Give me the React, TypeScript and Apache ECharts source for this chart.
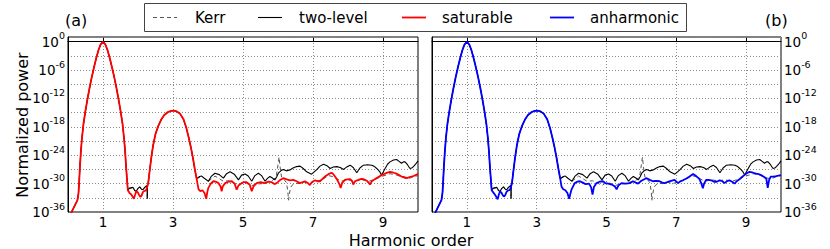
import React, { useEffect, useRef } from 'react';
import * as echarts from 'echarts';

type P = [number, number];

// x: harmonic order, y: log10(normalized power)
const harmonicTicks = [1, 3, 5, 7, 9];
const exponentLabels = [0, -6, -12, -18, -24, -30, -36];
const legendNames = ['Kerr', 'two-level', 'saturable', 'anharmonic'];

const peakOneLog: P[] = [
  [0.09, -36.2], [0.15, -35.3], [0.21, -34.4], [0.27, -33.5], [0.3, -32.0], [0.32, -29.5],
  [0.34, -26.5], [0.37, -23.0], [0.4, -20.3], [0.44, -17.5], [0.49, -15.0], [0.55, -12.4],
  [0.61, -10.0], [0.67, -7.8], [0.74, -5.5], [0.81, -3.4], [0.87, -1.8], [0.93, -0.6],
  [1.0, 0], [1.07, -0.6], [1.13, -1.8], [1.19, -3.4], [1.26, -5.5], [1.33, -7.8],
  [1.39, -10.0], [1.45, -12.4], [1.51, -15.0], [1.56, -17.5], [1.6, -20.3], [1.63, -23.0],
  [1.66, -26.5], [1.69, -29.5], [1.71, -31.4],
];

const peakThreeLog: P[] = [
  [2.29, -30.0], [2.33, -27.5], [2.38, -24.5], [2.43, -22.0], [2.5, -19.5], [2.58, -17.8],
  [2.66, -16.5], [2.75, -15.5], [2.85, -14.9], [2.95, -14.6], [3.02, -14.55], [3.1, -14.7],
  [3.2, -15.2], [3.3, -16.4], [3.38, -18.2], [3.45, -20.3], [3.51, -22.3], [3.57, -24.6],
  [3.62, -26.8], [3.67, -28.8],
];

const twoLevelGap: P[] = [
  [1.75, -31.0], [1.8, -30.9], [1.86, -30.8], [1.91, -31.5], [1.95, -31.6], [2.0, -31.0],
  [2.05, -30.7], [2.1, -31.2], [2.14, -31.3], [2.19, -30.8], [2.24, -30.5], [2.26, -30.4],
  [2.265, -33.2], [2.27, -30.3],
];
const saturableGap: P[] = [
  [1.76, -32.0], [1.81, -32.3], [1.85, -32.8], [1.88, -33.2], [1.92, -32.3], [1.95, -31.6],
  [1.99, -31.8], [2.03, -32.4], [2.07, -32.8], [2.1, -32.6], [2.14, -31.8], [2.17, -31.6],
  [2.21, -31.5], [2.24, -31.3],
];
const anharmonicGap: P[] = [
  [1.76, -31.9], [1.81, -32.4], [1.85, -32.9], [1.88, -33.3], [1.92, -32.2], [1.95, -31.7],
  [1.99, -31.9], [2.03, -32.5], [2.07, -32.7], [2.1, -32.4], [2.14, -31.7], [2.17, -31.5],
  [2.21, -31.4], [2.24, -31.2],
];

const twoLevelTail: P[] = [
  [3.7, -28.85], [3.76, -28.5], [3.82, -28.4], [3.9, -28.9], [4.01, -29.5], [4.1, -28.4],
  [4.2, -27.8], [4.32, -28.1], [4.44, -28.85], [4.53, -27.9], [4.63, -27.5], [4.75, -28.0],
  [4.87, -29.2], [4.96, -28.2], [5.06, -27.95], [5.15, -28.4], [5.25, -29.5], [5.34, -28.3],
  [5.44, -27.8], [5.53, -28.3], [5.63, -29.5], [5.7, -28.9], [5.77, -28.5], [5.84, -28.8],
  [5.91, -29.2], [5.96, -28.6], [6.01, -27.8], [6.08, -27.3], [6.15, -27.0], [6.24, -27.3],
  [6.34, -27.1], [6.43, -26.7], [6.53, -26.4], [6.63, -26.3], [6.72, -26.8], [6.82, -27.5],
  [6.96, -28.0], [7.1, -27.1], [7.2, -26.3], [7.3, -25.9], [7.4, -26.2], [7.49, -26.8],
  [7.58, -26.5], [7.68, -26.4], [7.78, -26.6], [7.87, -27.0], [7.96, -26.5], [8.06, -26.1],
  [8.15, -26.6], [8.25, -27.7], [8.34, -26.7], [8.44, -26.1], [8.56, -26.0], [8.68, -26.1],
  [8.76, -26.4], [8.82, -26.8], [8.9, -27.4], [8.96, -28.2], [9.01, -27.5], [9.06, -26.8],
  [9.13, -25.9], [9.2, -25.4], [9.3, -25.0], [9.39, -24.9], [9.46, -25.3], [9.53, -25.7],
  [9.58, -25.4], [9.63, -25.4], [9.7, -26.0], [9.77, -26.8], [9.82, -26.7], [9.87, -26.4],
  [9.93, -25.9], [9.98, -25.4], [10.0, -25.2],
];

const saturableTail: P[] = [
  [3.73, -31.2], [3.78, -31.6], [3.84, -31.4], [3.9, -32.0], [3.95, -33.2], [3.98, -31.8],
  [4.01, -30.9], [4.08, -30.0], [4.15, -29.5], [4.23, -29.6], [4.3, -29.9], [4.36, -30.6],
  [4.39, -31.6], [4.42, -30.6], [4.49, -29.9], [4.58, -29.6], [4.68, -29.5], [4.76, -30.0],
  [4.82, -31.3], [4.87, -30.4], [4.96, -29.9], [5.03, -29.7], [5.1, -29.7], [5.19, -30.2],
  [5.25, -31.6], [5.3, -30.6], [5.39, -29.9], [5.5, -29.7], [5.63, -29.9], [5.72, -29.6],
  [5.82, -29.7], [5.9, -30.1], [5.96, -29.9], [6.05, -29.3], [6.15, -28.85], [6.25, -29.1],
  [6.34, -29.3], [6.44, -29.2], [6.53, -29.5], [6.63, -29.9], [6.77, -29.5], [6.84, -29.8],
  [6.91, -30.3], [6.98, -29.6], [7.06, -29.3], [7.13, -29.5], [7.2, -29.5], [7.27, -29.0],
  [7.34, -28.5], [7.44, -28.0], [7.53, -27.7], [7.58, -28.0], [7.63, -28.5], [7.7, -29.3],
  [7.76, -30.2], [7.79, -30.9], [7.83, -29.9], [7.91, -29.2], [7.98, -29.1], [8.06, -29.05],
  [8.12, -29.5], [8.15, -30.2], [8.2, -29.5], [8.3, -29.2], [8.38, -29.0], [8.44, -29.05],
  [8.54, -29.4], [8.6, -29.9], [8.63, -30.2], [8.68, -29.5], [8.77, -29.05], [8.87, -28.6],
  [8.96, -28.2], [9.08, -27.8], [9.2, -27.5], [9.3, -27.7], [9.39, -27.9], [9.46, -28.2],
  [9.53, -28.5], [9.6, -28.6], [9.68, -28.85], [9.76, -28.6], [9.87, -28.4], [9.93, -28.2],
  [10.0, -27.95],
];

const anharmonicTail: P[] = [
  [3.71, -30.6], [3.76, -31.2], [3.82, -31.4], [3.88, -32.0], [3.93, -33.2], [3.97, -32.0],
  [4.0, -31.2], [4.09, -29.9], [4.16, -29.6], [4.24, -29.5], [4.32, -29.8], [4.4, -30.1],
  [4.5, -30.0], [4.56, -30.8], [4.6, -32.3], [4.64, -30.7], [4.71, -29.9], [4.8, -29.6],
  [4.9, -29.5], [4.97, -29.9], [5.05, -30.0], [5.15, -30.2], [5.24, -30.6], [5.29, -31.2],
  [5.34, -30.4], [5.43, -29.9], [5.55, -30.0], [5.67, -29.9], [5.76, -29.5], [5.84, -29.8],
  [5.9, -30.0], [6.0, -29.4], [6.14, -28.85], [6.24, -29.2], [6.33, -29.5], [6.42, -29.4],
  [6.52, -29.5], [6.6, -29.8], [6.67, -29.9], [6.8, -29.5], [6.95, -29.2], [7.05, -29.9],
  [7.12, -29.5], [7.19, -29.3], [7.29, -28.9], [7.38, -28.5], [7.48, -27.95], [7.57, -28.4],
  [7.66, -29.0], [7.72, -30.0], [7.76, -31.0], [7.8, -29.9], [7.86, -29.2], [7.93, -29.2],
  [8.0, -29.3], [8.08, -29.6], [8.16, -29.6], [8.24, -29.3], [8.32, -29.5], [8.38, -29.9],
  [8.45, -29.5], [8.52, -29.3], [8.6, -29.6], [8.67, -30.0], [8.73, -29.5], [8.81, -29.1],
  [8.88, -28.6], [8.95, -28.2], [9.02, -27.8], [9.1, -27.5], [9.2, -27.7], [9.29, -27.9],
  [9.36, -28.0], [9.43, -28.2], [9.52, -28.6], [9.58, -29.0], [9.62, -30.9], [9.66, -29.2],
  [9.71, -28.5], [9.78, -28.5], [9.86, -28.4], [9.93, -28.3], [10.0, -28.2],
];

const kerrTail: P[] = [
  [3.7, -28.85], [3.82, -28.5], [4.01, -29.5], [4.2, -28.4], [4.44, -29.5], [4.6, -29.4],
  [4.75, -29.9], [4.87, -30.4], [4.95, -30.0], [5.1, -29.9], [5.25, -30.4], [5.4, -30.1],
  [5.55, -30.0], [5.7, -29.6], [5.85, -29.3], [5.95, -28.5], [6.0, -26.0], [6.03, -24.4],
  [6.06, -26.5], [6.1, -28.6], [6.18, -29.2], [6.24, -29.8], [6.28, -31.5], [6.3, -33.5],
  [6.33, -32.0], [6.36, -30.8], [6.42, -30.2], [6.5, -29.9], [6.6, -30.0], [6.75, -29.7],
  [6.9, -30.0], [7.05, -29.6], [7.25, -29.2], [7.45, -28.3], [7.6, -28.6], [7.8, -29.5],
  [8.0, -29.2], [8.2, -29.4], [8.4, -29.2], [8.6, -29.5], [8.8, -29.0], [9.0, -28.4],
  [9.2, -27.9], [9.4, -28.2], [9.55, -28.7], [9.7, -29.0], [9.85, -28.6], [10.0, -28.3],
];

const FONT = 'DejaVu Sans';

const kerrData = [...peakOneLog, ...twoLevelGap, ...peakThreeLog, ...kerrTail];
const twoLevelData = [...peakOneLog, ...twoLevelGap, ...peakThreeLog, ...twoLevelTail];
const saturableData = [...peakOneLog, ...saturableGap, ...peakThreeLog, ...saturableTail];
const anharmonicData = [...peakOneLog, ...anharmonicGap, ...peakThreeLog, ...anharmonicTail];

const styles: Record<string, { color: string; width: number; dash?: number[] }> = {
  Kerr: { color: '#555', width: 1, dash: [4, 3] },
  'two-level': { color: '#000', width: 1.1 },
  saturable: { color: '#ff0000', width: 1.8 },
  anharmonic: { color: '#0000ff', width: 1.8 },
};

const gridLine = { show: true, lineStyle: { color: '#8a8a8a', width: 1, type: [1, 2] as number[] } };

function makeX(gridIndex: number) {
  return {
    type: 'value',
    gridIndex,
    min: 0,
    max: 10,
    axisLine: { show: true, lineStyle: { color: '#000', width: 1 } },
    axisTick: { show: true, inside: true, length: 4, customValues: harmonicTicks, lineStyle: { color: '#000' } },
    axisLabel: {
      customValues: harmonicTicks,
      fontFamily: FONT,
      fontSize: 13.5,
      color: '#000',
      margin: 3,
    },
    splitLine: gridLine,
  };
}

function yFormatter(v: number) {
  const r = Math.round(v);
  if (Math.abs(v - r) > 1e-6 || !exponentLabels.includes(r)) return '';
  return `{b|10}{s|${r}}`;
}

function makeY(gridIndex: number, position: 'left' | 'right') {
  return {
    type: 'value',
    gridIndex,
    position,
    min: -36,
    max: 1,
    interval: 3,
    axisLine: { show: true, lineStyle: { color: '#000', width: 1 } },
    axisTick: { show: false },
    axisLabel: {
      formatter: yFormatter,
      margin: 3,
      color: '#000',
      rich: {
        b: { fontFamily: FONT, fontSize: 13.5, lineHeight: 22, color: '#000' },
        s: { fontFamily: FONT, fontSize: 9.5, lineHeight: 11, verticalAlign: 'top', color: '#000' },
      },
    },
    splitLine: gridLine,
  };
}

function line(name: string, xi: number, data: P[]) {
  const s = styles[name];
  return {
    type: 'line',
    name,
    xAxisIndex: xi,
    yAxisIndex: xi,
    data,
    symbol: 'none',
    showSymbol: false,
    lineStyle: { color: s.color, width: s.width, type: s.dash ? s.dash : 'solid' },
    itemStyle: { color: s.color },
    emphasis: { disabled: true },
    z: s.dash ? 1 : 2,
  };
}

// legend drawn as graphics: [line start x, text x]
const legendSlots: [number, number][] = [[153, 195], [258, 299], [402, 442], [550, 590]];

const legendGraphics: any[] = [
  { type: 'rect', shape: { x: 144.5, y: 3.5, width: 542, height: 28 }, style: { fill: '#fff', stroke: '#444', lineWidth: 1 }, z: 10 },
];
legendNames.forEach((name, i) => {
  const s = styles[name];
  const [lx, tx] = legendSlots[i];
  legendGraphics.push({
    type: 'line',
    shape: { x1: lx, y1: 17.5, x2: lx + 24, y2: 17.5 },
    style: { stroke: s.color, lineWidth: s.width, lineDash: s.dash || null },
    z: 11,
  });
  legendGraphics.push({
    type: 'text',
    x: tx,
    y: 17.5,
    style: { text: name, font: `15px "${FONT}"`, fill: '#000', verticalAlign: 'middle', align: 'left' },
    z: 11,
  });
});

const option = {
  animation: false,
  backgroundColor: '#fff',
  grid: [
    { left: 68, top: 37, width: 350, height: 175, show: true, borderColor: '#000', borderWidth: 1 },
    { left: 432, top: 37, width: 349, height: 175, show: true, borderColor: '#000', borderWidth: 1 },
  ],
  xAxis: [makeX(0), makeX(1)],
  yAxis: [makeY(0, 'left'), makeY(1, 'right')],
  graphic: [
    ...legendGraphics,
    { type: 'text', left: 65, top: 12, style: { text: '(a)', font: `16px "${FONT}"`, fill: '#000' } },
    { type: 'text', left: 765, top: 12, style: { text: '(b)', font: `16px "${FONT}"`, fill: '#000' } },
    {
      type: 'text',
      x: 22,
      y: 125,
      rotation: Math.PI / 2,
      style: { text: 'Normalized power', font: `16px "${FONT}"`, fill: '#000', align: 'center', verticalAlign: 'middle' },
    },
    {
      type: 'text',
      x: 411,
      y: 240,
      style: { text: 'Harmonic order', font: `16px "${FONT}"`, fill: '#000', align: 'center', verticalAlign: 'middle' },
    },
  ],
  series: [
    line('Kerr', 0, kerrData),
    line('two-level', 0, twoLevelData),
    line('saturable', 0, saturableData),
    line('Kerr', 1, kerrData),
    line('two-level', 1, twoLevelData),
    line('anharmonic', 1, anharmonicData),
  ],
};

export default function App() {
  const ref = useRef<HTMLDivElement>(null);
  useEffect(() => {
    document.body.style.margin = '0';
    const chart = echarts.init(ref.current!, null, { renderer: 'svg' });
    chart.setOption(option as any);
    return () => chart.dispose();
  }, []);
  return <div ref={ref} style={{ width: 830, height: 249, position: 'absolute', left: 0, top: 0 }} />;
}
